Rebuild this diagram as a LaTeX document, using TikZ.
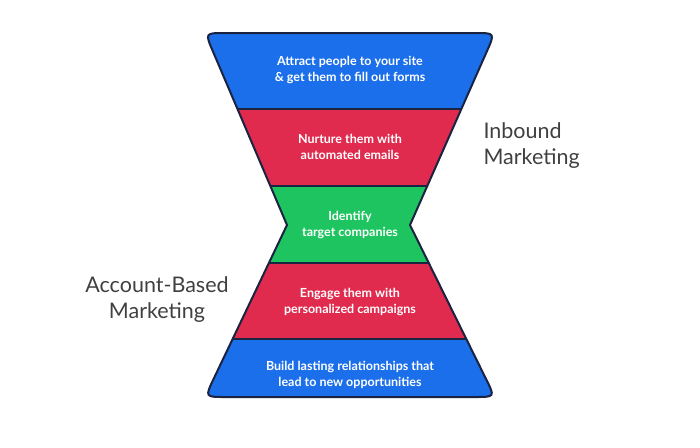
\documentclass[tikz,border=0pt]{standalone}
\usepackage{fontspec}
\setmainfont{Lato}
\begin{document}
\begin{tikzpicture}[x=1pt,y=-1pt,
  band/.style={text=white,font=\bfseries\fontsize{12.5}{16}\selectfont,align=center},
  side/.style={text=black!75,font=\fontsize{21.5}{26}\selectfont,align=left}]
\useasboundingbox[fill=white] (0,0) rectangle (700,447);
\definecolor{cb}{HTML}{1B6FEA}
\definecolor{cr}{HTML}{E02A4E}
\definecolor{cg}{HTML}{1DC45F}
\definecolor{co}{HTML}{1A2340}
\def\hg{(225,33) -- (475,33) .. controls (495,33) .. (486.9,51.3) -- (410,225) -- (486.1,379.1) .. controls (495,397) .. (475,397) -- (225,397) .. controls (205,397) .. (213.6,378.9) -- (287,225) -- (212.9,51.4) .. controls (205,33) .. (225,33) -- cycle}
\begin{scope}
\clip \hg;
\fill[cb] (190,20) rectangle (510,109);
\fill[cr] (190,109) rectangle (510,186);
\fill[cg] (190,186) rectangle (510,263);
\fill[cr] (190,263) rectangle (510,339);
\fill[cb] (190,339) rectangle (510,410);
\draw[co,line width=1.5pt] (190,109) -- (510,109) (190,186) -- (510,186) (190,263) -- (510,263) (190,339) -- (510,339);
\end{scope}
\draw[co,line width=2pt] \hg;
\node[band] (b1) at (350,70) {Attract people to your site\\\& get them to fill out forms};
\node[band] (b2) at (350,147) {Nurture them with\\automated emails};
\node[band] (b3) at (350,225) {Identify\\target companies};
\node[band] (b4) at (350,302) {Engage them with\\personalized campaigns};
\node[band] (b5) at (350,375) {Build lasting relationships that\\lead to new opportunities};
\node[side,anchor=west] (in) at (480,146) {Inbound\\Marketing};
\node[side,align=center] (ab) at (157,300) {Account-Based\\Marketing};
\end{tikzpicture}
\end{document}
